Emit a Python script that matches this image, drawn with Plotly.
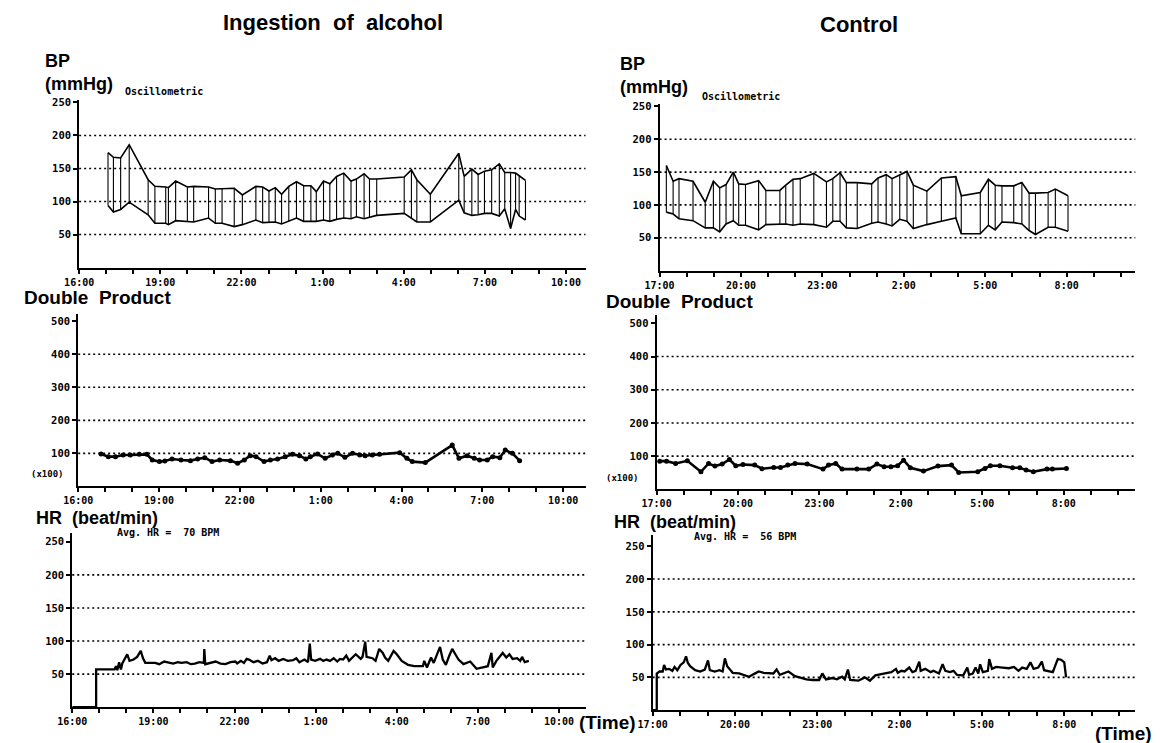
import plotly.graph_objects as go

W, H = 1160, 743
INK = "black"
MONO = "DejaVu Sans Mono"
SANS = "Liberation Sans"

# ---------------- Ingestion of alcohol (recording starts 16:00) ----------------
alc_start = 16
alc_ticks = ["16:00", "19:00", "22:00", "1:00", "4:00", "7:00", "10:00"]

alc_bp_time = ["17:04", "17:16", "17:32", "17:51", "18:33", "18:48", "19:12", "19:18", "19:34",
               "20:00", "20:14", "20:47", "21:02", "21:17", "21:44", "22:02", "22:32", "22:47",
               "23:01", "23:15", "23:29", "23:45", "0:02", "0:18", "0:34", "0:46", "1:02", "1:16",
               "1:31", "1:47", "2:03", "2:15", "2:32", "2:44", "3:00", "4:01", "4:17", "4:29",
               "4:59", "6:02", "6:14", "6:31", "6:45", "6:59", "7:15", "7:32", "7:44", "7:57",
               "8:08", "8:16", "8:30"]
alc_bp_sys = [174, 167, 166, 186, 133, 123, 122, 121, 131, 122, 123, 122, 119, 119, 120, 110, 123,
              122, 116, 121, 111, 123, 130, 124, 124, 115, 131, 127, 138, 143, 131, 134, 142, 134,
              134, 137, 148, 133, 111, 173, 138, 149, 141, 146, 148, 157, 144, 144, 143, 139, 132]
alc_bp_dia = [94, 84, 88, 99, 80, 67, 67, 65, 71, 69, 69, 75, 67, 67, 62, 65, 72, 68, 68, 69, 66,
              70, 75, 70, 70, 70, 72, 70, 73, 75, 74, 77, 74, 76, 79, 82, 75, 69, 69, 102, 83, 79,
              80, 82, 82, 78, 89, 59, 88, 78, 72]

alc_dp_time = ["16:51", "17:07", "17:23", "17:40", "17:56", "18:16", "18:33", "18:45", "19:01",
               "19:13", "19:29", "19:49", "20:10", "20:26", "20:42", "20:58", "21:15", "21:39",
               "21:55", "22:10", "22:23", "22:36", "22:54", "23:08", "23:24", "23:41", "23:57",
               "0:13", "0:27", "0:37", "0:53", "1:10", "1:26", "1:38", "1:54", "2:11", "2:27",
               "2:39", "2:55", "3:11", "3:56", "4:12", "4:24", "4:53", "5:53", "6:08", "6:26",
               "6:42", "6:54", "7:11", "7:23", "7:39", "7:51", "8:07", "8:23"]
alc_dp = [98, 90, 90, 95, 95, 97, 97, 80, 75, 77, 83, 80, 78, 83, 87, 75, 80, 78, 70, 80, 93, 90,
          75, 80, 83, 90, 97, 93, 83, 90, 98, 85, 95, 100, 88, 100, 95, 93, 95, 97, 102, 85, 75,
          72, 125, 85, 93, 85, 80, 80, 90, 87, 110, 100, 78]

alc_hr_time = ["16:00", "16:53", "16:53", "17:08", "17:34", "17:37", "17:40", "17:44", "17:48",
               "17:51", "17:55", "18:02", "18:07", "18:16", "18:24", "18:32", "18:37", "18:42",
               "19:04", "19:13", "19:24", "19:33", "19:44", "19:54", "20:02", "20:14", "20:23",
               "20:32", "20:42", "20:52", "20:53", "20:55", "21:07", "21:18", "21:29", "21:40",
               "21:51", "22:02", "22:06", "22:14", "22:21", "22:27", "22:32", "22:42", "22:52",
               "23:02", "23:12", "23:18", "23:22", "23:30", "23:38", "23:48", "23:58", "0:10",
               "0:17", "0:24", "0:35", "0:43", "0:47", "0:50", "0:59", "1:10", "1:17", "1:24",
               "1:32", "1:40", "1:48", "1:54", "2:01", "2:08", "2:14", "2:29", "2:40", "2:44",
               "2:50", "2:53", "3:06", "3:13", "3:21", "3:29", "3:34", "3:41", "3:53", "4:00",
               "4:11", "4:25", "4:39", "4:58", "5:01", "5:07", "5:16", "5:22", "5:30", "5:36",
               "5:42", "5:49", "5:56", "6:03", "6:10", "6:17", "6:28", "6:43", "6:57", "7:12",
               "7:22", "7:30", "7:33", "7:41", "7:48", "7:55", "8:03", "8:10", "8:17", "8:27",
               "8:34", "8:38", "8:44", "8:53"]
alc_hr = [0, 0, 57, 57, 57, 62, 56, 68, 57, 66, 72, 80, 70, 72, 76, 85, 74, 67,
          67, 65, 69, 68, 66, 68, 67, 68, 65, 66, 68, 67, 88, 65, 67, 69, 66, 65,
          68, 69, 66, 70, 67, 73, 72, 68, 70, 66, 68, 78, 71, 74, 70, 73, 70, 71,
          74, 68, 72, 68, 96, 72, 70, 73, 70, 72, 70, 74, 69, 73, 72, 78, 70, 80,
          73, 76, 99, 76, 74, 70, 88, 82, 75, 70, 85, 80, 70, 64, 62, 62, 70, 60,
          75, 67, 81, 91, 72, 64, 77, 88, 80, 72, 65, 69, 58, 60, 62, 82, 60, 70,
          76, 82, 75, 80, 73, 74, 70, 76, 68, 70]

# ---------------- Control (recording starts 17:00) ----------------
ctl_start = 17
ctl_ticks = ["17:00", "20:00", "23:00", "2:00", "5:00", "8:00"]

ctl_bp_time = ["17:15", "17:30", "17:43", "18:14", "18:41", "18:59", "19:13", "19:27", "19:43",
               "19:55", "20:10", "20:39", "20:55", "21:26", "21:39", "21:55", "22:11", "22:41",
               "23:09", "23:23", "23:39", "23:53", "0:17", "0:49", "1:03", "1:21", "1:34", "1:51",
               "2:07", "2:21", "2:51", "3:23", "3:55", "4:07", "4:49", "5:07", "5:22", "5:37",
               "6:03", "6:21", "6:37", "6:51", "7:19", "7:35", "8:03"]
ctl_bp_sys = [160, 136, 140, 136, 104, 136, 126, 131, 150, 132, 131, 137, 122, 122, 130, 139, 140,
              148, 135, 140, 149, 134, 134, 132, 141, 146, 140, 146, 151, 130, 121, 141, 143, 114,
              119, 139, 130, 129, 129, 134, 118, 118, 119, 124, 114]
ctl_bp_dia = [89, 86, 79, 76, 65, 65, 59, 71, 76, 69, 69, 62, 70, 71, 71, 69, 71, 70, 66, 75, 75,
              65, 64, 72, 74, 71, 68, 78, 75, 64, 70, 75, 80, 56, 56, 69, 62, 74, 73, 71, 61, 55,
              66, 66, 60]

ctl_dp_time = ["17:07", "17:22", "17:42", "18:08", "18:38", "18:55", "19:09", "19:25", "19:41",
               "19:55", "20:11", "20:37", "20:53", "21:19", "21:34", "21:50", "22:06", "22:33",
               "23:08", "23:20", "23:36", "23:50", "0:23", "0:49", "1:07", "1:23", "1:38", "1:53",
               "2:06", "2:21", "2:50", "3:22", "3:52", "4:08", "4:50", "5:06", "5:18", "5:39",
               "6:07", "6:23", "6:37", "6:53", "7:23", "7:35", "8:06"]
ctl_dp = [85, 85, 78, 86, 53, 78, 70, 76, 90, 71, 75, 73, 62, 66, 66, 73, 78, 76, 61, 73, 78, 61,
          61, 61, 76, 68, 68, 71, 88, 65, 55, 70, 73, 51, 53, 63, 71, 71, 65, 65, 58, 53, 61, 61,
          63]

ctl_hr_time = ["17:00", "17:09", "17:09", "17:15", "17:22", "17:25", "17:29", "17:36", "17:43",
               "17:48", "17:54", "18:01", "18:08", "18:13", "18:17", "18:22", "18:33", "18:44",
               "18:54", "19:01", "19:05", "19:16", "19:26", "19:33", "19:38", "19:43", "19:48",
               "19:55", "20:09", "20:20", "20:31", "20:41", "20:52", "21:03", "21:24", "21:31",
               "21:38", "21:57", "22:01", "22:11", "22:21", "22:36", "22:50", "23:04", "23:11",
               "23:19", "23:33", "23:43", "23:54", "0:00", "0:07", "0:12", "0:30", "0:44", "0:55",
               "1:07", "1:28", "1:42", "1:52", "1:56", "2:04", "2:11", "2:21", "2:28", "2:35",
               "2:43", "2:46", "2:56", "3:08", "3:14", "3:26", "3:34", "3:40", "3:50", "3:58",
               "4:05", "4:19", "4:28", "4:32", "4:40", "4:46", "4:52", "4:56", "5:02", "5:13",
               "5:16", "5:22", "5:31", "5:45", "5:59", "6:10", "6:20", "6:28", "6:38", "6:46",
               "6:53", "7:03", "7:11", "7:16", "7:25", "7:35", "7:43", "7:46", "7:53", "8:00",
               "8:04"]
ctl_hr = [0, 0, 56, 59, 59, 69, 62, 63, 60, 66, 61, 69, 73, 82, 72, 67, 61, 59,
          62, 76, 61, 59, 61, 59, 79, 67, 63, 57, 56, 54, 51, 55, 59, 57, 56, 62,
          54, 59, 57, 52, 50, 47, 46, 46, 56, 47, 49, 47, 51, 47, 62, 46, 45, 50,
          45, 53, 56, 58, 63, 57, 60, 59, 65, 58, 60, 74, 60, 63, 58, 60, 56, 70,
          60, 58, 60, 54, 53, 65, 54, 56, 65, 56, 70, 58, 60, 78, 63, 66, 65, 64,
          66, 60, 65, 63, 73, 63, 65, 74, 61, 60, 58, 73, 78, 77, 73, 50]

bp_ticks = [50, 100, 150, 200, 250]
bp_grid = [50, 100, 150, 200]
dp_ticks = [100, 200, 300, 400, 500]
dp_grid = [100, 200, 300, 400]
hr_ticks = [50, 100, 150, 200, 250]
hr_grid = [50, 100, 150, 200]


def hours_after(clock, start):
    """Clock time -> hours elapsed since the start of the recording (crosses midnight)."""
    hh, mm = clock.split(":")
    t = int(hh) + int(mm) / 60
    if t < start:
        t += 24
    return t - start


fig = go.Figure()


def axis_ids(i):
    s = "" if i == 1 else str(i)
    return "x" + s, "y" + s


def setup_panel(i, x_px, y_px, xmax, ymax, tick_labels, start, ytickvals, gridvals):
    xn, yn = axis_ids(i)
    common = dict(showline=True, linecolor=INK, linewidth=2, ticks="outside", ticklen=4,
                  tickwidth=1.5, tickcolor=INK, showgrid=False, zeroline=False,
                  fixedrange=True)
    fig.update_layout({
        "xaxis" + xn[1:]: dict(
            domain=[x_px[0] / W, x_px[1] / W], range=[0, xmax], anchor=yn,
            tickmode="array", tickvals=[hours_after(t, start) for t in tick_labels],
            ticktext=tick_labels,
            tickfont=dict(family=MONO, size=10, color=INK, weight="bold"),
            minor=dict(tickmode="array", tickvals=list(range(0, int(xmax) + 1)),
                       ticks="outside", ticklen=4, tickwidth=1.5, tickcolor=INK),
            **common),
        "yaxis" + yn[1:]: dict(
            domain=[1 - y_px[1] / H, 1 - y_px[0] / H], range=[0, ymax], anchor=xn,
            tickmode="array", tickvals=ytickvals,
            tickfont=dict(family=MONO, size=10.5, color=INK, weight="bold"),
            **common),
    })
    for v in gridvals:
        fig.add_shape(type="line", xref=f"{xn} domain", yref=yn, x0=0, x1=1, y0=v, y1=v,
                      line=dict(color=INK, width=1.6, dash="2px,3px"), layer="below")


def add_bp(i, times, start, sys, dia):
    xn, yn = axis_ids(i)
    t = [hours_after(c, start) for c in times]
    for series in (sys, dia):
        fig.add_trace(go.Scatter(x=t, y=series, mode="lines", xaxis=xn, yaxis=yn,
                                 line=dict(color=INK, width=1.6), hoverinfo="skip"))
    vx, vy = [], []
    for tt, s, d in zip(t, sys, dia):
        vx += [tt, tt, None]
        vy += [d, s, None]
    fig.add_trace(go.Scatter(x=vx, y=vy, mode="lines", xaxis=xn, yaxis=yn,
                             line=dict(color=INK, width=1.1), hoverinfo="skip"))


def add_dp(i, times, start, values):
    xn, yn = axis_ids(i)
    fig.add_trace(go.Scatter(x=[hours_after(c, start) for c in times], y=values,
                             mode="lines+markers", xaxis=xn, yaxis=yn,
                             line=dict(color=INK, width=2.6),
                             marker=dict(color=INK, size=5), hoverinfo="skip"))


def add_hr(i, times, start, values):
    xn, yn = axis_ids(i)
    fig.add_trace(go.Scatter(x=[hours_after(c, start) for c in times], y=values,
                             mode="lines", xaxis=xn, yaxis=yn,
                             line=dict(color=INK, width=2.3), hoverinfo="skip"))


# panel geometry (pixels): left column = alcohol, right column = control
setup_panel(1, (65, 578), (97, 265), 18.72, 253, alc_ticks, alc_start, bp_ticks, bp_grid)
setup_panel(2, (64, 578), (312, 485), 18.83, 521, alc_ticks, alc_start, dp_ticks, dp_grid)
setup_panel(3, (58, 578), (532, 707), 18.98, 263, alc_ticks, alc_start, hr_ticks, hr_grid)
setup_panel(4, (653, 1135), (101, 268), 17.53, 253, ctl_ticks, ctl_start, bp_ticks, bp_grid)
setup_panel(5, (650, 1135), (313, 488), 17.64, 524, ctl_ticks, ctl_start, dp_ticks, dp_grid)
setup_panel(6, (646, 1135), (534, 710), 17.59, 267, ctl_ticks, ctl_start, hr_ticks, hr_grid)

add_bp(1, alc_bp_time, alc_start, alc_bp_sys, alc_bp_dia)
add_dp(2, alc_dp_time, alc_start, alc_dp)
add_hr(3, alc_hr_time, alc_start, alc_hr)
add_bp(4, ctl_bp_time, ctl_start, ctl_bp_sys, ctl_bp_dia)
add_dp(5, ctl_dp_time, ctl_start, ctl_dp)
add_hr(6, ctl_hr_time, ctl_start, ctl_hr)


def label(text, x, y, size, family=SANS, xanchor="left", bold=True):
    fig.add_annotation(text=f"<b>{text}</b>" if bold else text, x=x / W, y=1 - y / H,
                       xref="paper", yref="paper", xanchor=xanchor, yanchor="middle",
                       showarrow=False, font=dict(family=family, size=size, color=INK))


NB = "\u00a0"
label(f"Ingestion{NB} of{NB} alcohol", 322, 19, 22, xanchor="center")
label("Control", 855, 21, 22, xanchor="center")

for x0, y_bp, y_mm, x_osc, y_osc in [(28, 57, 80, 109, 88), (611, 60, 83, 694, 93)]:
    label("BP", x0, y_bp, 18)
    label("(mmHg)", x0, y_mm, 18)
    label("Oscillometric", x_osc, y_osc, 10, family=MONO)

label(f"Double{NB} Product", 7, 295, 19)
label(f"Double{NB} Product", 597, 299, 19)
label("(x100)", 14, 473, 9, family=MONO)
label("(x100)", 597, 477, 9, family=MONO)

label(f"HR{NB} (beat/min)", 19, 517, 18)
label(f"HR{NB} (beat/min)", 605, 521, 18)
label(f"Avg. HR ={NB} 70 BPM", 101, 531, 10, family=MONO)
label(f"Avg. HR ={NB} 56 BPM", 686, 535, 10, family=MONO)

label("(Time)", 569, 722, 19)
label("(Time)", 1092, 733, 19)

fig.update_layout(width=W, height=H, margin=dict(l=0, r=0, t=0, b=0),
                  paper_bgcolor="white", plot_bgcolor="white", showlegend=False)

fig.write_html("out.html")
